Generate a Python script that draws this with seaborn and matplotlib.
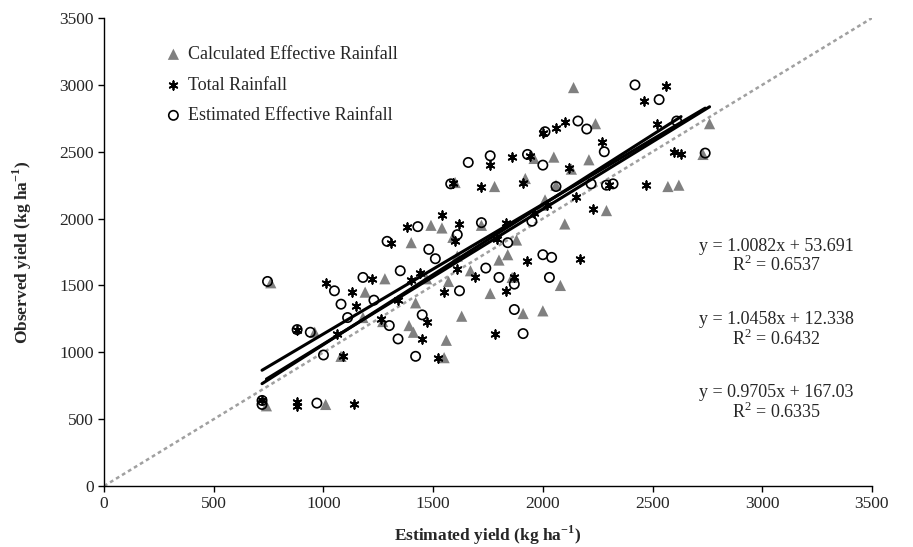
import numpy as np
import pandas as pd
import seaborn as sns
import matplotlib.pyplot as plt

# Calculated Effective Rainfall (triangles)
calc_x = [740, 760, 1010, 960, 1080, 1190, 1270, 1390, 1400, 1410, 1420, 1470, 1490, 1540, 1550,
          1560, 1570, 1590, 1610, 1600, 1630, 1670, 1720, 1760, 1780, 1800, 1840, 1860, 1910, 1920,
          1960, 2000, 2010, 2050, 2060, 2080, 2100, 2130, 2140, 2210, 2240, 2290, 2570, 2620, 2730,
          2760, 1880, 2000, 1280, 1180]
calc_y = [600, 1520, 610, 1150, 970, 1450, 1230, 1200, 1820, 1150, 1370, 1550, 1950, 1930, 960,
          1090, 1530, 1860, 1720, 2270, 1270, 1610, 1950, 1440, 2240, 1690, 1730, 1560, 1290, 2300,
          2450, 1310, 2140, 2460, 2250, 1500, 1960, 2370, 2980, 2440, 2710, 2060, 2240, 2250, 2480,
          2710, 1840, 2100, 1550, 1260]

# Total Rainfall (stars)
tot_x = [720, 880, 880, 880, 1010, 1060, 1090, 1140, 1130, 1150, 1220, 1260, 1310, 1340, 1380,
         1400, 1440, 1450, 1470, 1520, 1540, 1550, 1590, 1600, 1610, 1620, 1720, 1690, 1760, 1780,
         1790, 1830, 1860, 1870, 1910, 1930, 1960, 2000, 2020, 2060, 2100, 2120, 2150, 2170, 2230,
         2270, 2300, 2460, 2470, 2520, 2560, 2600, 2630, 1830, 1940]
tot_y = [640, 1170, 600, 630, 1520, 1140, 970, 610, 1450, 1350, 1550, 1250, 1820, 1390, 1940,
         1540, 1590, 1100, 1230, 960, 2030, 1450, 2270, 1830, 1620, 1960, 2240, 1560, 2400, 1140,
         1850, 1460, 2460, 1560, 2270, 1680, 2040, 2640, 2100, 2680, 2720, 2380, 2160, 1700, 2070,
         2570, 2250, 2880, 2250, 2710, 2990, 2500, 2480, 1970, 2470]

# Estimated Effective Rainfall (open circles)
est_x = [720, 720, 745, 880, 940, 970, 1000, 1050, 1080, 1110, 1180, 1230, 1300, 1290, 1340,
         1350, 1420, 1430, 1450, 1480, 1510, 1580, 1610, 1620, 1660, 1720, 1740, 1760, 1800, 1840,
         1870, 1870, 1910, 1930, 1950, 2000, 2010, 2030, 2040, 2000, 2160, 2200, 2220, 2280, 2290,
         2320, 2420, 2530, 2610, 2740, 2060]
est_y = [640, 610, 1530, 1170, 1150, 620, 980, 1460, 1360, 1260, 1560, 1390, 1200, 1830, 1100,
         1610, 970, 1940, 1280, 1770, 1700, 2260, 1880, 1460, 2420, 1970, 1630, 2470, 1560, 1820,
         1320, 1510, 1140, 2480, 1980, 1730, 2650, 1560, 1710, 2400, 2730, 2670, 2260, 2500, 2250,
         2260, 3000, 2890, 2730, 2490, 2240]

# trendline equations printed on the chart
slopes = [1.0082, 1.0458, 0.9705]
intercepts = [53.691, 12.338, 167.03]
r2_values = [0.6537, 0.6432, 0.6335]
eq_y = [1795, 1245, 697]

sns.set_theme(style="white")
plt.rcParams["font.family"] = ["Liberation Serif", "DejaVu Serif"]
plt.rcParams["mathtext.fontset"] = "custom"
plt.rcParams["mathtext.rm"] = "Liberation Serif"
plt.rcParams["mathtext.bf"] = "Liberation Serif:bold"

fig = plt.figure(figsize=(9.13, 5.47), dpi=100)
ax = fig.add_axes([0.114, 0.1115, 0.841, 0.8555])

# 1:1 line
ax.plot([0, 3500], [0, 3500], color="#a0a0a0", lw=1.8, linestyle=(0, (1.5, 1.3)), zorder=1)

df_calc = pd.DataFrame({"x": calc_x, "y": calc_y})
df_tot = pd.DataFrame({"x": tot_x, "y": tot_y})
df_est = pd.DataFrame({"x": est_x, "y": est_y})

sns.scatterplot(data=df_calc, x="x", y="y", marker="^", s=65, color="#808080",
                edgecolor="none", label="Calculated Effective Rainfall", ax=ax, zorder=3)
sns.scatterplot(data=df_tot, x="x", y="y", marker=(6, 2, 0), s=38, color="black",
                linewidth=1.3, label="Total Rainfall", ax=ax, zorder=4)
sns.scatterplot(data=df_est, x="x", y="y", marker="o", s=45, facecolor="none",
                edgecolor="black", linewidth=1.2, label="Estimated Effective Rainfall", ax=ax, zorder=4)

for xs, m, b in zip([calc_x, tot_x, est_x], slopes, intercepts):
    xx = np.array([min(xs), max(xs)])
    ax.plot(xx, m * xx + b, color="black", lw=2.2, zorder=5)

for m, b, r2, yy in zip(slopes, intercepts, r2_values, eq_y):
    ax.text(3063, yy, f"y = {m:.4f}x + {b:g}", ha="center", va="center", fontsize=13)
    ax.text(3063, yy - 145, f"R$^2$ = {r2:.4f}", ha="center", va="center", fontsize=13)

ax.set_xlim(0, 3500)
ax.set_ylim(0, 3500)
ax.set_xticks(range(0, 3501, 500))
ax.set_yticks(range(0, 3501, 500))
ax.tick_params(axis="both", labelsize=12.5, direction="out", length=4, width=1, color="black",
               left=True, bottom=True)
for side in ["top", "right"]:
    ax.spines[side].set_visible(False)
for side in ["left", "bottom"]:
    ax.spines[side].set_color("black")
    ax.spines[side].set_linewidth(1)

ax.set_xlabel(r"Estimated yield (kg ha$^{\mathbf{-1}}$)", fontsize=12.5, fontweight="bold", labelpad=8)
ax.set_ylabel(r"Observed yield (kg ha$^{\mathbf{-1}}$)", fontsize=12.5, fontweight="bold", labelpad=18)

ax.legend(loc="upper left", bbox_to_anchor=(0.055, 0.975), frameon=False, fontsize=13,
          handletextpad=0.2, handlelength=1.2, labelspacing=0.75)

fig.savefig("out.png", dpi=100)
